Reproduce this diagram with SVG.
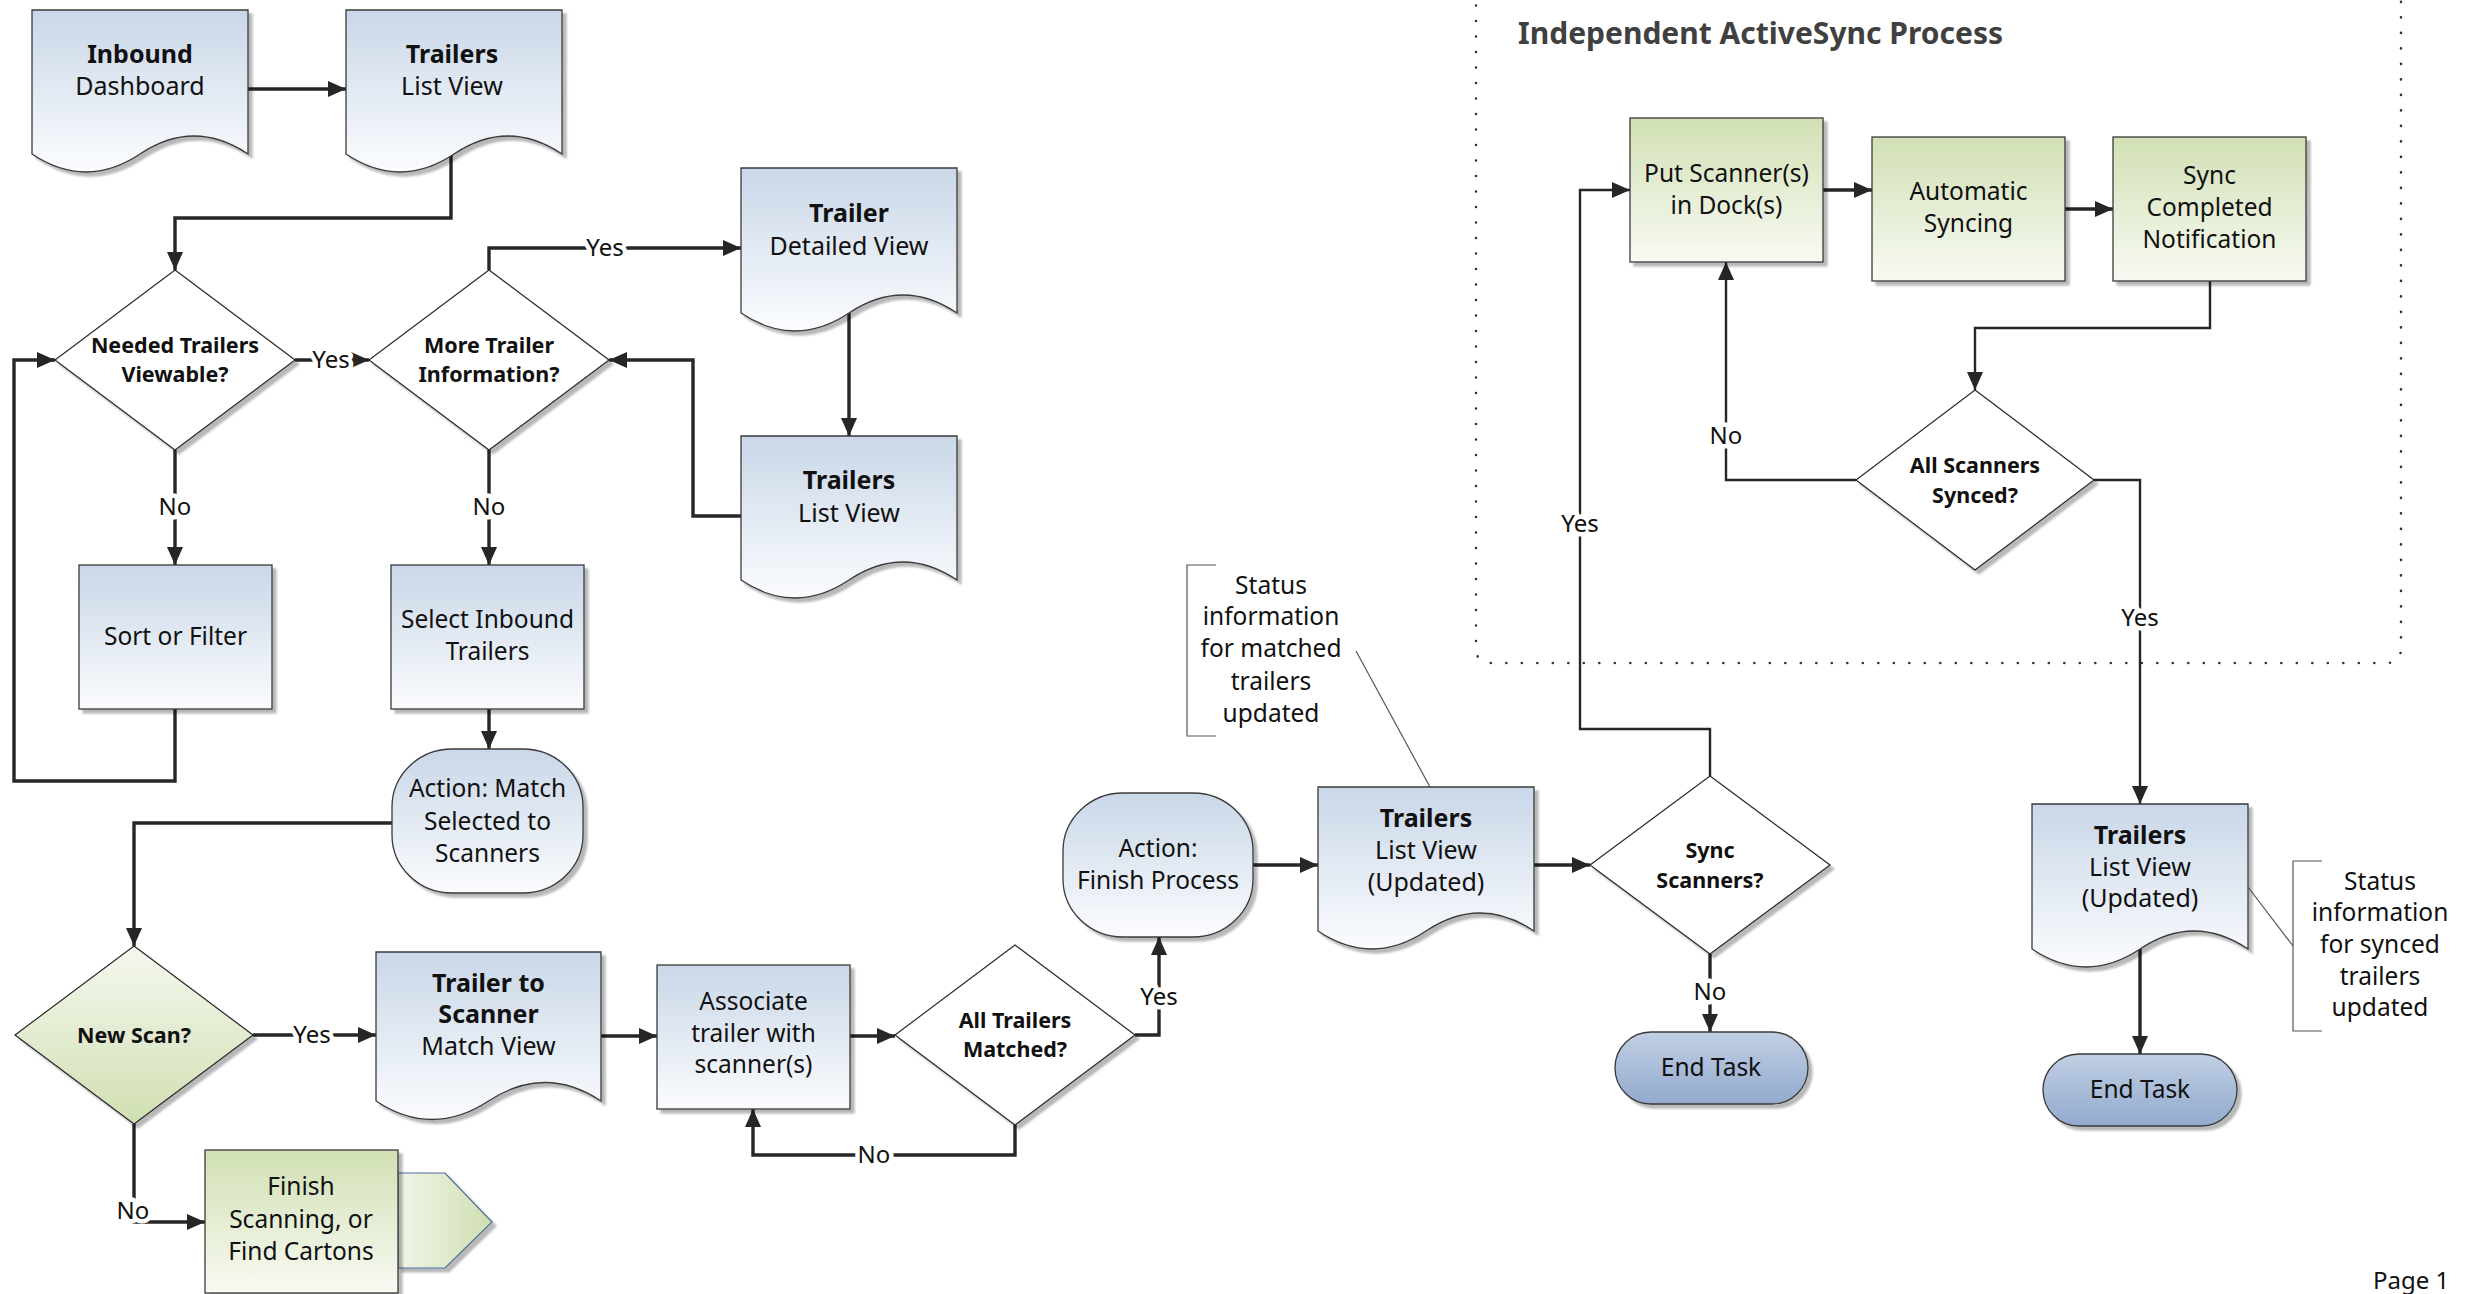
<svg xmlns="http://www.w3.org/2000/svg" width="2476" height="1294" viewBox="0 0 2476 1294">
<defs>
<style>
.t{font-family:"Noto Sans","Open Sans","Liberation Sans",sans-serif;font-size:24.5px;fill:#111;text-anchor:middle}
.dt{font-size:25px}
.b{font-weight:bold}
.dm{font-family:"Noto Sans","Open Sans","Liberation Sans",sans-serif;font-size:21.5px;font-weight:bold;fill:#111;text-anchor:middle}
.lbl{font-family:"Noto Sans","Open Sans","Liberation Sans",sans-serif;font-size:24px;fill:#111;text-anchor:middle;stroke:#fff;stroke-width:9px;stroke-linejoin:round;paint-order:stroke}
.note{font-family:"Noto Sans","Open Sans","Liberation Sans",sans-serif;font-size:24.5px;fill:#111;text-anchor:middle}
.shape{stroke:#3a3a3a;stroke-width:1.3;filter:url(#sh)}
.dia{fill:#fff;stroke:#2a2a2a;stroke-width:1.2;filter:url(#sh)}
.c{fill:none;stroke:#262626;stroke-width:3.4;stroke-linejoin:miter}
.ct{fill:none;stroke:#262626;stroke-width:2.4}
.arr{marker-end:url(#ah)}
.thin{fill:none;stroke:#555;stroke-width:1.2}
</style>
<filter id="sh" x="-5%" y="-5%" width="115%" height="115%">
<feDropShadow dx="4" dy="4" stdDeviation="1" flood-color="#000" flood-opacity="0.28"/>
</filter>
<linearGradient id="gBlue" x1="0" y1="0" x2="0" y2="1"><stop offset="0" stop-color="#c9d7e8"/><stop offset="1" stop-color="#fbfcfe"/></linearGradient>
<linearGradient id="gGreen" x1="0" y1="0" x2="0" y2="1"><stop offset="0" stop-color="#d1e0b4"/><stop offset="1" stop-color="#f8faf3"/></linearGradient>
<linearGradient id="gGreenUp" x1="0" y1="0" x2="0" y2="1"><stop offset="0" stop-color="#f5f8ef"/><stop offset="1" stop-color="#d0dfb2"/></linearGradient>
<linearGradient id="gGreenH" x1="0" y1="0" x2="1" y2="0"><stop offset="0" stop-color="#f1f5e9"/><stop offset="1" stop-color="#cfdfb0"/></linearGradient>
<linearGradient id="gEnd" x1="0" y1="0" x2="0" y2="1"><stop offset="0" stop-color="#c0cfe3"/><stop offset="1" stop-color="#93abce"/></linearGradient>
<marker id="ah" markerUnits="userSpaceOnUse" markerWidth="20" markerHeight="16" refX="18" refY="8" orient="auto"><path d="M0,0 L18,8 L0,16 z" fill="#262626"/></marker>
</defs>
<rect x="0" y="0" width="2476" height="1294" fill="#fff"/>

<!-- ActiveSync container -->
<g id="activesync-container">
<path d="M1476,-10 V648 Q1476,663 1491,663 H2386 Q2401,663 2401,648 V-10" fill="none" stroke="#333" stroke-width="2.6" stroke-dasharray="0 15.5" stroke-linecap="round"/>
<text x="1518" y="44" font-family="Noto Sans, Open Sans, sans-serif" font-size="30" font-weight="bold" fill="#404040">Independent ActiveSync Process</text>
</g>

<!-- Connectors -->
<g id="connectors">
<path class="c arr" d="M248,89 H346"/>
<path class="c arr" d="M451,154 V218 H175 V270"/>
<path class="c arr" d="M295,360 H369"/>
<path class="c arr" d="M489,270 V248 H741"/>
<path class="c arr" d="M849,313 V436"/>
<path class="c arr" d="M741,516 H693 V360 H609"/>
<path class="c arr" d="M175,450 V565"/>
<path class="c arr" d="M175,709 V781 H14 V360 H55"/>
<path class="c arr" d="M489,450 V565"/>
<path class="c arr" d="M489,709 V749"/>
<path class="c arr" d="M392,823 H134 V946"/>
<path class="c arr" d="M253,1035 H376"/>
<path class="c arr" d="M134,1124 V1222 H205"/>
<path class="c arr" d="M601,1036 H657"/>
<path class="c arr" d="M850,1036 H895"/>
<path class="c arr" d="M1015,1125 V1155 H753 V1109"/>
<path class="c arr" d="M1135,1035 H1159 V937"/>
<path class="c arr" d="M1253,865 H1318"/>
<path class="c arr" d="M1534,865 H1590"/>
<path class="c arr" d="M1710,954 V1032"/>
<path class="ct arr" d="M1710,776 V729 H1580 V190 H1630"/>
<path class="c arr" d="M1823,190 H1872"/>
<path class="c arr" d="M2065,209 H2113"/>
<path class="ct arr" d="M2210,281 V328 H1975 V390"/>
<path class="ct arr" d="M1856,480 H1726 V262"/>
<path class="ct arr" d="M2094,480 H2140 V804"/>
<path class="c arr" d="M2140,949 V1054"/>
<text class="lbl" x="331" y="368">Yes</text>
<text class="lbl" x="605" y="256">Yes</text>
<text class="lbl" x="175" y="515">No</text>
<text class="lbl" x="489" y="515">No</text>
<text class="lbl" x="312" y="1043">Yes</text>
<text class="lbl" x="133" y="1219">No</text>
<text class="lbl" x="874" y="1163">No</text>
<text class="lbl" x="1159" y="1005">Yes</text>
<text class="lbl" x="1710" y="1000">No</text>
<text class="lbl" x="1580" y="532">Yes</text>
<text class="lbl" x="1726" y="444">No</text>
<text class="lbl" x="2140" y="626">Yes</text>
</g>

<!-- Nodes -->
<g id="inbound-dashboard">
<path class="shape" fill="url(#gBlue)" d="M32,10 H248 V154 Q194,118 140,154 T32,154 Z"/>
<text class="t dt b" x="140" y="63">Inbound</text>
<text class="t dt" x="140" y="95">Dashboard</text>
</g>
<g id="trailers-list-view-1">
<path class="shape" fill="url(#gBlue)" d="M346,10 H562 V154 Q508,118 454,154 T346,154 Z"/>
<text class="t dt b" x="452" y="63">Trailers</text>
<text class="t dt" x="452" y="95">List View</text>
</g>
<g id="needed-trailers-viewable">
<path class="dia" d="M175,270 L295,360 L175,450 L55,360 Z"/>
<text class="dm" x="175" y="353">Needed Trailers</text>
<text class="dm" x="175" y="382">Viewable?</text>
</g>
<g id="more-trailer-information">
<path class="dia" d="M489,270 L609,360 L489,450 L369,360 Z"/>
<text class="dm" x="489" y="353">More Trailer</text>
<text class="dm" x="489" y="382">Information?</text>
</g>
<g id="trailer-detailed-view">
<path class="shape" fill="url(#gBlue)" d="M741,168 H957 V313 Q903,277 849,313 T741,313 Z"/>
<text class="t dt b" x="849" y="222">Trailer</text>
<text class="t dt" x="849" y="255">Detailed View</text>
</g>
<g id="trailers-list-view-2">
<path class="shape" fill="url(#gBlue)" d="M741,436 H957 V580 Q903,544 849,580 T741,580 Z"/>
<text class="t dt b" x="849" y="489">Trailers</text>
<text class="t dt" x="849" y="522">List View</text>
</g>
<g id="sort-or-filter">
<rect class="shape" fill="url(#gBlue)" x="79" y="565" width="193" height="144"/>
<text class="t" x="175.5" y="645">Sort or Filter</text>
</g>
<g id="select-inbound-trailers">
<rect class="shape" fill="url(#gBlue)" x="391" y="565" width="193" height="144"/>
<text class="t" x="487.5" y="628">Select Inbound</text>
<text class="t" x="487.5" y="660">Trailers</text>
</g>
<g id="action-match">
<rect class="shape" fill="url(#gBlue)" x="392" y="749" width="191" height="144" rx="60" ry="58"/>
<text class="t" x="487.5" y="797">Action: Match</text>
<text class="t" x="487.5" y="830">Selected to</text>
<text class="t" x="487.5" y="862">Scanners</text>
</g>
<g id="new-scan">
<path class="dia" style="fill:url(#gGreenUp)" d="M134,946 L253,1035 L134,1124 L15,1035 Z"/>
<text class="dm" x="134" y="1043">New Scan?</text>
</g>
<g id="trailer-to-scanner-match-view">
<path class="shape" fill="url(#gBlue)" d="M376,952 H601 V1101 Q545,1064 488.5,1101 T376,1101 Z"/>
<text class="t dt b" x="488.5" y="992">Trailer to</text>
<text class="t dt b" x="488.5" y="1023">Scanner</text>
<text class="t dt" x="488.5" y="1055">Match View</text>
</g>
<g id="finish-scanning">
<path fill="url(#gGreenH)" stroke="#4a6e9a" stroke-width="1.2" filter="url(#sh)" d="M398,1173 H445 L492,1222 L445,1268 H398 Z"/>
<rect class="shape" fill="url(#gGreen)" x="205" y="1150" width="193" height="143"/>
<text class="t" x="301" y="1195">Finish</text>
<text class="t" x="301" y="1228">Scanning, or</text>
<text class="t" x="301" y="1260">Find Cartons</text>
</g>
<g id="associate-trailer">
<rect class="shape" fill="url(#gBlue)" x="657" y="965" width="193" height="144"/>
<text class="t" x="753.5" y="1010">Associate</text>
<text class="t" x="753.5" y="1042">trailer with</text>
<text class="t" x="753.5" y="1073">scanner(s)</text>
</g>
<g id="all-trailers-matched">
<path class="dia" d="M1015,945 L1135,1035 L1015,1125 L895,1035 Z"/>
<text class="dm" x="1015" y="1028">All Trailers</text>
<text class="dm" x="1015" y="1057">Matched?</text>
</g>
<g id="action-finish">
<rect class="shape" fill="url(#gBlue)" x="1063" y="793" width="190" height="144" rx="60" ry="58"/>
<text class="t" x="1158" y="857">Action:</text>
<text class="t" x="1158" y="889">Finish Process</text>
</g>
<g id="trailers-list-view-updated-1">
<path class="shape" fill="url(#gBlue)" d="M1318,787 H1534 V931 Q1480,895 1426,931 T1318,931 Z"/>
<text class="t dt b" x="1426" y="827">Trailers</text>
<text class="t dt" x="1426" y="859">List View</text>
<text class="t dt" x="1426" y="891">(Updated)</text>
</g>
<g id="note-matched">
<path class="thin" d="M1216,565 H1187 V736 H1216"/>
<path class="thin" d="M1356,651 L1430,787"/>
<text class="note" x="1271" y="594">Status</text>
<text class="note" x="1271" y="625">information</text>
<text class="note" x="1271" y="657">for matched</text>
<text class="note" x="1271" y="690">trailers</text>
<text class="note" x="1271" y="722">updated</text>
</g>
<g id="sync-scanners">
<path class="dia" d="M1710,776 L1830,865 L1710,954 L1590,865 Z"/>
<text class="dm" x="1710" y="858">Sync</text>
<text class="dm" x="1710" y="888">Scanners?</text>
</g>
<g id="end-task-1">
<rect class="shape" fill="url(#gEnd)" x="1615" y="1032" width="193" height="72" rx="36" ry="36"/>
<text class="t" x="1711" y="1076">End Task</text>
</g>
<g id="put-scanners-in-dock">
<rect class="shape" fill="url(#gGreen)" x="1630" y="118" width="193" height="144"/>
<text class="t" x="1726.5" y="182">Put Scanner(s)</text>
<text class="t" x="1726.5" y="214">in Dock(s)</text>
</g>
<g id="automatic-syncing">
<rect class="shape" fill="url(#gGreen)" x="1872" y="137" width="193" height="144"/>
<text class="t" x="1968.5" y="200">Automatic</text>
<text class="t" x="1968.5" y="232">Syncing</text>
</g>
<g id="sync-completed-notification">
<rect class="shape" fill="url(#gGreen)" x="2113" y="137" width="193" height="144"/>
<text class="t" x="2209.5" y="184">Sync</text>
<text class="t" x="2209.5" y="216">Completed</text>
<text class="t" x="2209.5" y="248">Notification</text>
</g>
<g id="all-scanners-synced">
<path class="dia" d="M1975,390 L2094,480 L1975,570 L1856,480 Z"/>
<text class="dm" x="1975" y="473">All Scanners</text>
<text class="dm" x="1975" y="503">Synced?</text>
</g>
<g id="trailers-list-view-updated-2">
<path class="shape" fill="url(#gBlue)" d="M2032,804 H2248 V949 Q2194,913 2140,949 T2032,949 Z"/>
<text class="t dt b" x="2140" y="844">Trailers</text>
<text class="t dt" x="2140" y="876">List View</text>
<text class="t dt" x="2140" y="907">(Updated)</text>
</g>
<g id="end-task-2">
<rect class="shape" fill="url(#gEnd)" x="2043" y="1054" width="194" height="72" rx="36" ry="36"/>
<text class="t" x="2140" y="1098">End Task</text>
</g>
<g id="note-synced">
<path class="thin" d="M2322,861 H2293 V1031 H2322"/>
<path class="thin" d="M2248,887 L2293,946"/>
<text class="note" x="2380" y="890">Status</text>
<text class="note" x="2380" y="921">information</text>
<text class="note" x="2380" y="953">for synced</text>
<text class="note" x="2380" y="985">trailers</text>
<text class="note" x="2380" y="1016">updated</text>
</g>
<text x="2373" y="1289" font-family="Noto Sans, Open Sans, sans-serif" font-size="24" fill="#111">Page 1</text>
</svg>
